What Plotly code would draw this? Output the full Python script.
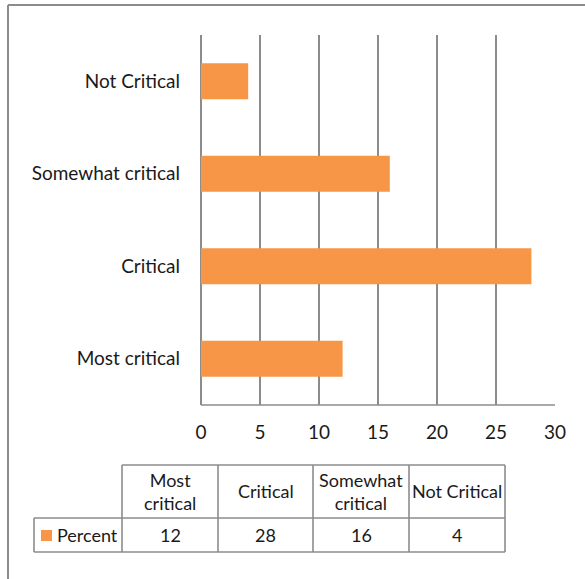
import plotly.graph_objects as go

# Survey results: how critical each item was rated (percent of responses)
categories = ["Most critical", "Critical", "Somewhat critical", "Not Critical"]
header_labels = ["Most<br>critical", "Critical", "Somewhat<br>critical", "Not Critical"]
percent = [12, 28, 16, 4]
series_name = "Percent"
x_ticks = [0, 5, 10, 15, 20, 25, 30]

W, H = 585, 579
BAR_COLOR = "#F79646"
LINE_COLOR = "#8C8C8C"
FONT = "Lato, Roboto, sans-serif"
AXIS_SIZE = 19
TABLE_SIZE = 18
TEXT_COLOR = "#1a1a1a"


def px(x):
    return x / W


def py(y):
    return 1 - y / H


fig = go.Figure(
    go.Bar(
        y=categories,
        x=percent,
        orientation="h",
        marker=dict(color=BAR_COLOR, line=dict(width=0)),
        name=series_name,
        showlegend=False,
    )
)

shapes = []
annotations = []


def line(x0, y0, x1, y1, width=1.6):
    shapes.append(dict(type="line", xref="paper", yref="paper",
                       x0=px(x0), y0=py(y0), x1=px(x1), y1=py(y1),
                       line=dict(color=LINE_COLOR, width=width)))


# chart frame (left and top edges)
line(8, 5, 8, H, width=2)
line(8, 5, W, 5, width=2)

# data table below the chart
col_edges = [34, 122, 218, 313, 409, 505]
row_top, row_mid, row_bot = 465, 518, 552
line(col_edges[1], row_top, col_edges[-1], row_top)
line(col_edges[0], row_mid, col_edges[-1], row_mid)
line(col_edges[0], row_bot, col_edges[-1], row_bot)
line(col_edges[0], row_mid, col_edges[0], row_bot)
for xe in col_edges[1:]:
    line(xe, row_top, xe, row_bot)

tfont = dict(size=TABLE_SIZE, color=TEXT_COLOR, family=FONT)
for i, (lab, val) in enumerate(zip(header_labels, percent)):
    cx = (col_edges[i + 1] + col_edges[i + 2]) / 2
    annotations.append(dict(xref="paper", yref="paper", x=px(cx), y=py(491),
                            text=lab, showarrow=False, xanchor="center", yanchor="middle",
                            font=tfont))
    annotations.append(dict(xref="paper", yref="paper", x=px(cx), y=py(535),
                            text=str(val), showarrow=False, xanchor="center", yanchor="middle",
                            font=tfont))

# legend key and series name in the row header
shapes.append(dict(type="rect", xref="paper", yref="paper",
                   x0=px(41), x1=px(52), y0=py(530), y1=py(541),
                   fillcolor=BAR_COLOR, line=dict(width=0)))
annotations.append(dict(xref="paper", yref="paper", x=px(55), y=py(535),
                        text=series_name, showarrow=False, xanchor="left", yanchor="middle",
                        font=tfont))

fig.update_layout(
    width=W, height=H,
    margin=dict(l=0, r=0, t=0, b=0),
    paper_bgcolor="white", plot_bgcolor="white",
    bargap=0.61,
    shapes=shapes,
    annotations=annotations,
    font=dict(family=FONT, size=AXIS_SIZE, color=TEXT_COLOR),
    xaxis=dict(
        domain=[px(201), px(555)],
        range=[0, 30],
        tickvals=x_ticks,
        showgrid=True, gridcolor=LINE_COLOR, gridwidth=1.6,
        zeroline=True, zerolinecolor=LINE_COLOR, zerolinewidth=1.6,
        showline=False,
        ticks="",
        ticklabelstandoff=14,
        tickfont=dict(size=AXIS_SIZE, color=TEXT_COLOR, family=FONT),
        automargin=False,
        fixedrange=True,
    ),
    yaxis=dict(
        domain=[py(405), py(35)],
        categoryorder="array", categoryarray=categories,
        showgrid=False, zeroline=False,
        showline=False, ticks="",
        ticklabelstandoff=20,
        tickfont=dict(size=AXIS_SIZE, color=TEXT_COLOR, family=FONT),
        automargin=False,
        fixedrange=True,
    ),
)

# bottom edge of the plot area
fig.add_shape(type="line", xref="x", yref="paper", x0=0, x1=30, y0=py(405), y1=py(405),
              line=dict(color=LINE_COLOR, width=1.6))

fig.write_html("out.html")
